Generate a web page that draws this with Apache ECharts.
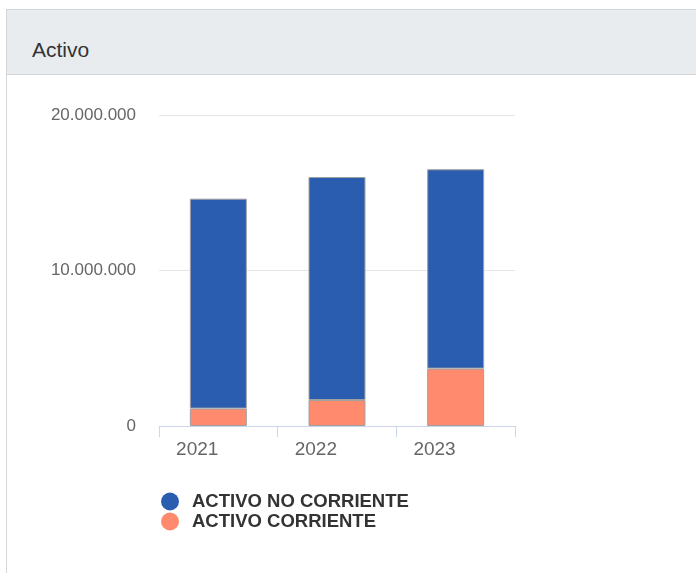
<!DOCTYPE html>
<html>
<head>
<meta charset="utf-8">
<script src="https://cdn.jsdelivr.net/npm/echarts@6/dist/echarts.min.js"></script>
<style>
  html, body { margin: 0; padding: 0; background: #fff; width: 696px; height: 573px; overflow: hidden; font-family: "Liberation Sans", Arial, sans-serif; }
  #card { position: absolute; left: 6px; top: 9px; width: 720px; height: 600px; border: 1px solid #d3d7db; background: #fff; }
  #header { position: absolute; left: 0; top: 0; right: 0; height: 64px; background: #e9ecef; border-bottom: 1px solid #d3d7db; }
  #title { position: absolute; left: 25px; top: 26px; font-size: 21px; color: #333; line-height: 28px; }
  #chart { position: absolute; left: 0; top: 0; width: 696px; height: 573px; }
</style>
</head>
<body>
<div id="card"><div id="header"><div id="title">Activo</div></div></div>
<div id="chart"></div>
<script>
const categories = ['2021', '2022', '2023'];
const activoCorriente = [1120000, 1670000, 3690000];
const activoNoCorriente = [13500000, 14340000, 12820000];
const seriesNames = ['ACTIVO NO CORRIENTE', 'ACTIVO CORRIENTE'];
const yTicks = [0, 10000000, 20000000];

function fmt(v) {
  return String(v).replace(/\B(?=(\d{3})+(?!\d))/g, '.');
}

const chart = echarts.init(document.getElementById('chart'), null, { renderer: 'canvas' });
chart.setOption({
  backgroundColor: 'transparent',
  animation: false,
  textStyle: { fontFamily: '"Liberation Sans", Arial, sans-serif' },
  grid: { left: 159, right: 181, top: 115, bottom: 147, containLabel: false },
  xAxis: {
    type: 'category',
    data: categories,
    axisLine: { lineStyle: { color: '#ccd6eb', width: 1 } },
    axisTick: { show: true, length: 11, lineStyle: { color: '#ccd6eb' } },
    axisLabel: { align: 'right', margin: 14, fontSize: 19, color: '#666' }
  },
  yAxis: {
    type: 'value',
    min: yTicks[0],
    max: yTicks[yTicks.length - 1],
    interval: yTicks[1] - yTicks[0],
    axisLine: { show: false },
    axisTick: { show: false },
    splitLine: { lineStyle: { color: '#e6e6e6', width: 1 } },
    axisLabel: { margin: 23, fontSize: 17, color: '#666', formatter: fmt }
  },
  legend: {
    orient: 'vertical',
    left: 156,
    top: 487,
    icon: 'circle',
    itemWidth: 34,
    itemHeight: 18,
    itemGap: 1,
    data: seriesNames,
    itemStyle: { borderWidth: 0 },
    textStyle: { fontSize: 18.5, fontWeight: 'bold', color: '#333' }
  },
  series: [
    {
      name: seriesNames[1],
      type: 'bar',
      stack: 'activo',
      barWidth: '48%',
      data: activoCorriente,
      itemStyle: { color: '#ff8a6e', borderColor: '#a0a0a0', borderWidth: 1 }
    },
    {
      name: seriesNames[0],
      type: 'bar',
      stack: 'activo',
      barWidth: '48%',
      data: activoNoCorriente,
      itemStyle: { color: '#2a5db0', borderColor: '#a0a0a0', borderWidth: 1 }
    }
  ]
});
</script>
</body>
</html>
